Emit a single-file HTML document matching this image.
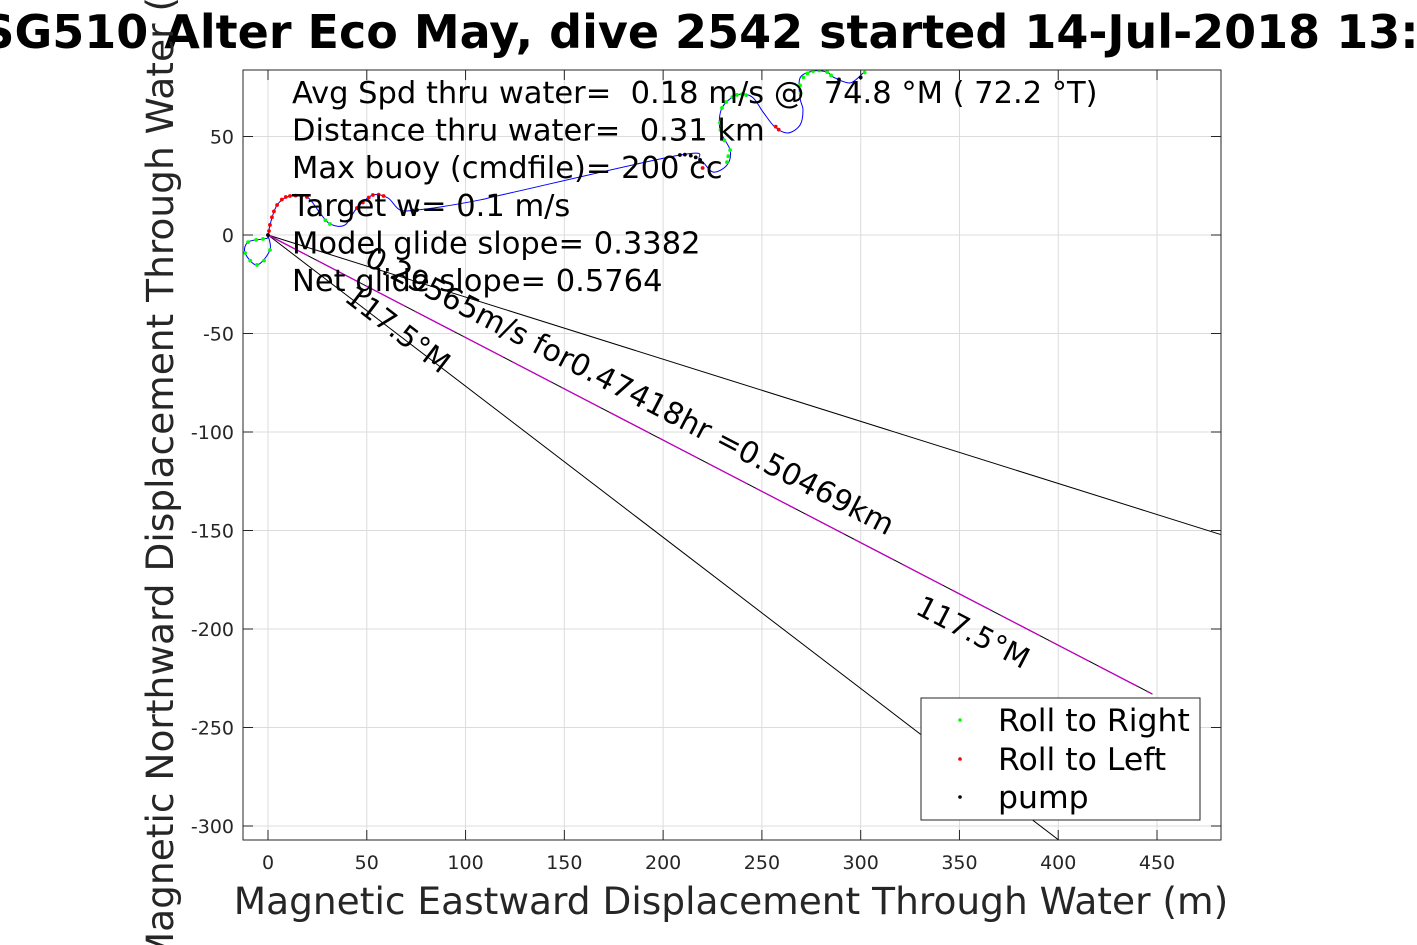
<!DOCTYPE html>
<html><head><meta charset="utf-8"><style>
html,body{margin:0;padding:0;background:#fff;overflow:hidden;}
svg{display:block;font-family:"DejaVu Sans","Liberation Sans",sans-serif;}
text{white-space:pre;}
</style></head><body>
<svg id="chart" width="1417" height="945" viewBox="0 0 1417 945" xmlns="http://www.w3.org/2000/svg">
<rect x="0" y="0" width="1417" height="945" fill="#fff"/>
<rect x="243" y="70" width="978" height="770" fill="#fff"/>
<g id="grid"></g>
<g id="ticks"></g>
<defs><clipPath id="clip"><rect x="243" y="70" width="978" height="770"/></clipPath></defs>
<g id="marks" clip-path="url(#clip)"></g>
<rect x="243" y="70" width="978" height="770" fill="none" stroke="#262626" stroke-width="1"/>
<g id="annot"></g>
<text x="732" y="48" font-size="46" font-weight="bold" text-anchor="middle" fill="#000">SG510 Alter Eco May, dive 2542 started 14-Jul-2018 13:53</text>
<text x="731" y="914" font-size="37.5" text-anchor="middle" fill="#262626">Magnetic Eastward Displacement Through Water (m)</text>
<text transform="translate(173,455) rotate(-90)" font-size="37.5" text-anchor="middle" fill="#262626">Magnetic Northward Displacement Through Water (m)</text>
<g>
<rect x="921" y="698" width="279" height="122" fill="#fff" stroke="#262626" stroke-width="1"/>
<circle cx="960" cy="720" r="1.8" fill="#0f0"/>
<text x="998" y="731" font-size="31.5">Roll to Right</text>
<circle cx="960" cy="759" r="1.8" fill="#f00"/>
<text x="998" y="770" font-size="31.5">Roll to Left</text>
<circle cx="960" cy="797" r="1.8" fill="#000"/>
<text x="998" y="808" font-size="31.5">pump</text>
</g>
</svg>
<script>
const xTicks = [0,50,100,150,200,250,300,350,400,450];
const yTicks = [50,0,-50,-100,-150,-200,-250,-300];
const trackX = [0,1,-5.6,-11.6,-10.1,-2.5,0,1,4.6,11.1,19.7,26.3,31.4,39,45,53.1,60.7,66.8,75.4,87.1,107.3,122.5,208.5,218.7,225.2,232.3,233.9,228.8,229.8,237.4,245,250.6,256.6,263.2,269.3,270.8,269.3,269.3,275.9,283,286,294.6,301.2];
const trackY = [0,-7.6,-15.2,-9.1,-3.6,-2,-1,5.1,15.2,19.8,19.3,11.2,5.6,5.1,13.7,20.3,18.8,12.7,12.7,14.2,17.8,21.3,40.6,38.1,32,35.5,43.1,53.3,64.5,71.1,70.1,62.4,54.8,51.8,55.8,63.5,69.5,79.7,83.2,82.7,80.2,77.2,82.2];
const rightX = [1,-2,-5.6,-9,-11.6,-10.1,-6,-2.5,29,31.4,232.3,233,233.9,231,229,228.8,229.8,232,235,237.4,240,242,269.6,269.3,271,273,275.9,279,283,285,302];
const rightY = [-7.6,-13,-15.2,-13,-9.1,-3.6,-2.5,-2,7.5,5.6,37,40,43.1,48,53.3,57,64.5,67.5,70,71.1,71.5,71,72,76,80,82,83.2,83.5,82.7,81,82.5];
const leftX = [0.5,1,2,3,4.6,7,9,11.1,14,17,19.7,45,48,51,53.1,56,58.5,220,257,258.5];
const leftY = [2,5.1,9,12,15.2,18,19.3,19.8,20,19.8,19.3,13.7,16.5,19,20.3,20.5,19.8,34,55,53.5];
const pumpX = [0,73,75.4,208.5,211,214,216.5,218.7,289,300];
const pumpY = [0,12.5,12.7,40.6,40.8,40.3,39.4,38.1,79,80];
const headings = [107.5,127.5];
const meanHeading = [117.5];
const distance = [504.69];
const textLines = ["Avg Spd thru water=  0.18 m/s @  74.8 °M ( 72.2 °T)","Distance thru water=  0.31 km","Max buoy (cmdfile)= 200 cc","Target w= 0.1 m/s","Model glide slope= 0.3382","Net glide slope= 0.5764"];

const NS="http://www.w3.org/2000/svg";
const X0=268, KX=1.9756, Y0=235, KY=1.97;
const sx=v=>X0+v*KX, sy=v=>Y0-v*KY;
function mk(tag,attrs,parent){const e=document.createElementNS(NS,tag);for(const k in attrs)e.setAttribute(k,attrs[k]);parent.appendChild(e);return e;}
const grid=document.getElementById('grid'), ticks=document.getElementById('ticks'), marks=document.getElementById('marks'), annot=document.getElementById('annot');
xTicks.forEach(t=>{const x=sx(t);
 const g=mk('line',{x1:x,x2:x,y1:70,y2:840,stroke:'#dcdcdc','stroke-width':1},grid);
 
 
 const tk=mk('line',{x1:x,x2:x,y1:840,y2:830,stroke:'#262626'},ticks);
 
 
 const tk2=mk('line',{x1:x,x2:x,y1:70,y2:80,stroke:'#262626'},ticks);
 
 
 const tl=mk('text',{x:x,y:869,'font-size':19,'text-anchor':'middle',fill:'#262626'},ticks);tl.textContent=t;
 
 
});
yTicks.forEach(t=>{const y=sy(t);
 const g=mk('line',{x1:243,x2:1221,y1:y,y2:y,stroke:'#dcdcdc','stroke-width':1},grid);
 
 
 const tk=mk('line',{x1:243,x2:253,y1:y,y2:y,stroke:'#262626'},ticks);
 
 
 const tk2=mk('line',{x1:1211,x2:1221,y1:y,y2:y,stroke:'#262626'},ticks);
 
 
 const tl=mk('text',{x:234,y:y+7,'font-size':19,'text-anchor':'end',fill:'#262626'},ticks);tl.textContent=t;
 
 
});
headings.forEach(h=>{const r=h*Math.PI/180, L=2000;
 const l=mk('line',{x1:sx(0),y1:sy(0),x2:sx(L*Math.sin(r)),y2:sy(L*Math.cos(r)),stroke:'#000','stroke-width':1},marks);
 
 
});
const mr=meanHeading[0]*Math.PI/180, D=distance[0];
const ml=mk('line',{x1:sx(0),y1:sy(0),x2:sx(D*Math.sin(mr)),y2:sy(D*Math.cos(mr)),stroke:'#000','stroke-width':1},marks);


const mm=mk('line',{x1:sx(0),y1:sy(0),x2:sx(D*Math.sin(mr)),y2:sy(D*Math.cos(mr)),stroke:'#c000c0','stroke-width':1.3,'stroke-dasharray':'45 10'},marks);


// smooth track (Catmull-Rom)
const P=trackX.map((v,i)=>[sx(v),sy(trackY[i])]);
let d='M'+P[0][0]+','+P[0][1];
for(let i=0;i<P.length-1;i++){const p0=P[Math.max(0,i-1)],p1=P[i],p2=P[i+1],p3=P[Math.min(P.length-1,i+2)];
 const c1=[p1[0]+(p2[0]-p0[0])/6,p1[1]+(p2[1]-p0[1])/6], c2=[p2[0]-(p3[0]-p1[0])/6,p2[1]-(p3[1]-p1[1])/6];
 d+=' C'+c1[0]+','+c1[1]+' '+c2[0]+','+c2[1]+' '+p2[0]+','+p2[1];}
const tr=mk('path',{d:d,fill:'none',stroke:'#00f','stroke-width':1},marks);


function dots(xs,ys,col,name){xs.forEach((v,i)=>{const c=mk('circle',{cx:sx(v),cy:sy(ys[i]),r:1.9,fill:col},marks);
 
 });}
dots(rightX,rightY,'#0f0','roll-right-point');
dots(leftX,leftY,'#f00','roll-left-point');
dots(pumpX,pumpY,'#000','pump-point');
textLines.forEach((s,i)=>{const t=mk('text',{x:292,y:103+i*37.6,'font-size':30.5,fill:'#000'},annot);t.setAttributeNS('http://www.w3.org/XML/1998/namespace','xml:space','preserve');t.textContent=s;
 
 });
const a1=mk('text',{transform:'translate(363,264) rotate(27.4)','font-size':30,fill:'#000'},annot);a1.textContent='0.29565m/s for0.47418hr =0.50469km';


const a2=mk('text',{transform:'translate(343,300) rotate(37.4)','font-size':29,fill:'#000'},annot);a2.textContent='117.5°M';


const a3=mk('text',{transform:'translate(914,613) rotate(27.4)','font-size':29,fill:'#000'},annot);a3.textContent='117.5°M';


</script>
</body></html>
